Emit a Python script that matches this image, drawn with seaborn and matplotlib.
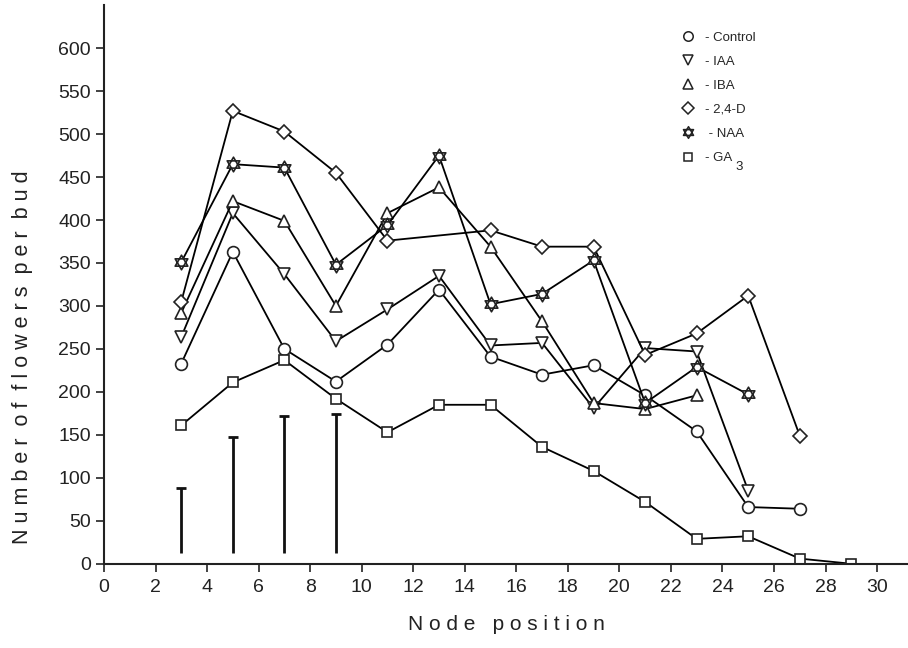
import numpy as np
import pandas as pd
import matplotlib
matplotlib.use("Agg")
import matplotlib.pyplot as plt
from matplotlib.path import Path
from matplotlib.lines import Line2D
import seaborn as sns

sns.set_style("ticks")
plt.rcParams['font.family'] = ['Liberation Sans', 'DejaVu Sans']

# values (number of flowers per bud at each node)
control_x = [3, 5, 7, 9, 11, 13, 15, 17, 19, 21, 23, 25, 27]
control_y = [233, 363, 250, 212, 255, 319, 241, 220, 231, 196, 154, 66, 64]

iaa_x = [3, 5, 7, 9, 11, 13, 15, 17, 19, 21, 23, 25]
iaa_y = [264, 408, 337, 259, 296, 335, 254, 257, 181, 251, 247, 85]

iba_x = [3, 5, 7, 9, 11, 13, 15, 17, 19, 21, 23]
iba_y = [292, 422, 399, 300, 408, 438, 369, 282, 187, 180, 196]

d24_x = [3, 5, 7, 9, 11, 15, 17, 19, 21, 23, 25, 27]
d24_y = [305, 527, 503, 455, 376, 388, 369, 369, 243, 268, 312, 149]

naa_x = [3, 5, 7, 9, 11, 13, 15, 17, 19, 21, 23, 25]
naa_y = [351, 465, 461, 348, 394, 475, 302, 314, 353, 187, 229, 197]

ga3_x = [3, 5, 7, 9, 11, 13, 15, 17, 19, 21, 23, 25, 27, 29]
ga3_y = [161, 211, 237, 192, 153, 185, 185, 136, 108, 72, 29, 32, 6, 0]

# vertical bars at the lower left
bar_x = [3, 5, 7, 9]
bar_lo = [12, 12, 12, 12]
bar_hi = [88, 147, 172, 174]

labels = ["- Control", "- IAA", "- IBA", "- 2,4-D", " - NAA", "- GA"]

# six-pointed star (two triangles) for NAA
a = np.deg2rad([90, 210, 330])
b = np.deg2rad([270, 30, 150])
verts = [(np.cos(t), np.sin(t)) for t in a] + [(0, 0)] + [(np.cos(t), np.sin(t)) for t in b] + [(0, 0)]
codes = [Path.MOVETO, Path.LINETO, Path.LINETO, Path.CLOSEPOLY] * 2
star = Path(verts, codes)

series = [
    (control_x, control_y, 'o', 8.5),
    (iaa_x, iaa_y, 'v', 9),
    (iba_x, iba_y, '^', 9),
    (d24_x, d24_y, 'D', 7.5),
    (naa_x, naa_y, star, 10.5),
    (ga3_x, ga3_y, 's', 7.5),
]

fig = plt.figure(figsize=(9.08, 6.48), dpi=100)
ax = fig.add_axes([0.1145, 0.13, 0.8855, 0.862])

for xs, ys, m, ms in series:
    sns.lineplot(x=xs, y=ys, ax=ax, color='black', linewidth=1.3,
                 marker=m, markersize=ms, markerfacecolor='white',
                 markeredgecolor='#222222', markeredgewidth=1.2,
                 estimator=None, sort=False)

ax.vlines(bar_x, bar_lo, bar_hi, color='#111111', linewidth=2.0)
ax.plot(bar_x, bar_hi, linestyle='none', marker='_', markersize=7,
        markeredgewidth=2, color='#111111')

ax.set_xlim(0, 31.2)
ax.set_ylim(0, 650)
ax.set_xticks(range(0, 31, 2))
ax.set_yticks(range(0, 601, 50))
ax.tick_params(axis='both', direction='out', length=6, width=1.2,
               labelsize=14, colors='#222222')
ax.tick_params(axis='x', pad=5)
for s in ['top', 'right']:
    ax.spines[s].set_visible(False)
for s in ['left', 'bottom']:
    ax.spines[s].set_linewidth(1.5)
    ax.spines[s].set_color('#222222')

ax.set_xlabel("N o d e   p o s i t i o n", fontsize=15, labelpad=14, color='#222222')

# spaced-out y label, like the scanned original
ylab = "  ".join(" ".join(w) for w in "Number of flowers per bud".split())
ax.set_ylabel(ylab, fontsize=15.5, color='#222222')
ax.yaxis.set_label_coords(-0.088, 0.37)

handles = [Line2D([], [], linestyle='none', marker=m, markersize=ms * 0.8,
                  markerfacecolor='white', markeredgecolor='#222222',
                  markeredgewidth=1.1) for _, _, m, ms in series]
leg = ax.legend(handles, labels, loc='upper left', bbox_to_anchor=(0.71, 0.965),
                frameon=False, fontsize=9.5, handlelength=1.0, handletextpad=0.8,
                labelspacing=0.9, borderpad=0)

# subscript "3" of GA3, placed just after the legend text
fig.canvas.draw()
bb = leg.get_texts()[-1].get_window_extent()
x_ax, y_ax = ax.transAxes.inverted().transform((bb.x1 + 3, bb.y0 - 3))
ax.text(x_ax, y_ax, "3", transform=ax.transAxes, fontsize=9.5,
        ha='left', va='center', color='#222222')

fig.savefig("out.png", dpi=100)
